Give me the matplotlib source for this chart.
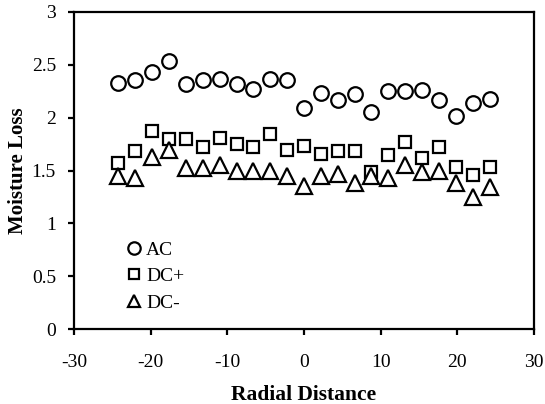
import numpy as np
import matplotlib.pyplot as plt

plt.rcParams['font.family'] = ['Liberation Serif', 'DejaVu Serif']
plt.rcParams['axes.unicode_minus'] = False

radial = [-24.2, -22.0, -19.8, -17.6, -15.4, -13.2, -11.0, -8.8, -6.6, -4.4, -2.2, 0.0,
          2.2, 4.4, 6.6, 8.8, 11.0, 13.2, 15.4, 17.6, 19.8, 22.0, 24.2]

ac = [2.33, 2.36, 2.43, 2.54, 2.32, 2.36, 2.37, 2.32, 2.27, 2.37, 2.36, 2.09,
      2.23, 2.17, 2.22, 2.05, 2.25, 2.25, 2.26, 2.17, 2.02, 2.14, 2.18]
dc_plus = [1.57, 1.68, 1.87, 1.80, 1.80, 1.72, 1.81, 1.75, 1.72, 1.85, 1.69, 1.73,
           1.66, 1.68, 1.68, 1.49, 1.65, 1.77, 1.62, 1.72, 1.53, 1.46, 1.53]
dc_minus = [1.45, 1.43, 1.63, 1.69, 1.52, 1.52, 1.55, 1.50, 1.50, 1.50, 1.45, 1.35,
            1.45, 1.47, 1.38, 1.45, 1.43, 1.55, 1.49, 1.50, 1.38, 1.25, 1.34]

fig = plt.figure(figsize=(5.45, 4.04), dpi=100)
ax = fig.add_axes([0.1358, 0.1856, 0.8440, 0.7847])

style = dict(linestyle='none', markerfacecolor='white', markeredgecolor='black',
             markeredgewidth=1.6)
ax.plot(radial, ac, marker='o', markersize=10.5, label='AC', **style)
ax.plot(radial, dc_plus, marker='s', markersize=9, label='DC+', **style)
ax.plot(radial, dc_minus, marker='^', markersize=11, label='DC-', **style)

ax.set_xlim(-30, 30)
ax.set_ylim(0, 3)
ax.set_xticks([-30, -20, -10, 0, 10, 20, 30])
ax.set_yticks([0, 0.5, 1, 1.5, 2, 2.5, 3])
ax.set_yticklabels(['0', '0.5', '1', '1.5', '2', '2.5', '3'])
ax.tick_params(direction='out', length=4, width=1.6, labelsize=14)
ax.tick_params(axis='x', pad=14)
ax.tick_params(axis='y', pad=9)

for s in ax.spines.values():
    s.set_linewidth(1.6)

ax.set_xlabel('Radial Distance', fontsize=15.5, fontweight='bold', labelpad=10)
ax.set_ylabel('Moisture Loss', fontsize=15, fontweight='bold', labelpad=3)

ax.legend(loc='lower left', bbox_to_anchor=(0.072, 0.0), frameon=False, fontsize=14,
          handletextpad=0.1, labelspacing=0.45, handlelength=1.0, markerscale=0.85)

fig.savefig('out.png', dpi=100)
